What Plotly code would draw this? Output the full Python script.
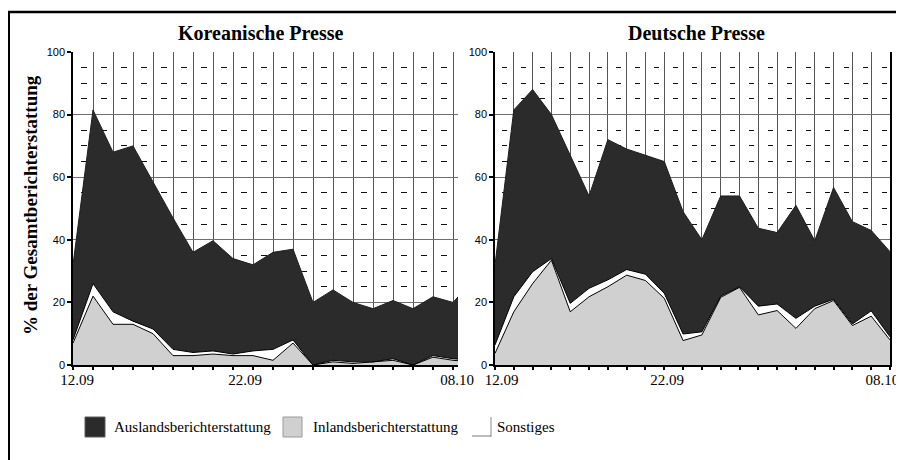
import plotly.graph_objects as go

# ---------------- data ----------------
dates = ["12.09", "13.09", "14.09", "15.09", "17.09", "18.09", "19.09", "20.09",
         "21.09", "22.09", "24.09", "25.09", "26.09", "27.09", "28.09", "29.09",
         "01.10", "02.10", "04.10", "05.10", "06.10", "08.10"]

series_names = ["Auslandsberichterstattung", "Inlandsberichterstattung", "Sonstiges"]

# Koreanische Presse (% der Gesamtberichterstattung)
kr_inland = [7, 22, 13, 13, 10, 3, 3, 3.5, 3, 3, 1.5, 7, 0, 1, 0.5, 1, 1.5, 0, 2.5, 1.5, 1, 1]
kr_sonst = [1, 4, 4, 1, 1.5, 2, 1, 1, 0.5, 1.5, 3.5, 1, 0, 0.5, 0.5, 0, 0.5, 0, 0.5, 0.5, 0.5, 0.5]
kr_ausland = [24, 55.5, 51, 56, 47, 42, 32, 35.2, 30.5, 27.5, 31, 29, 20, 22.5, 19, 17, 18.6,
              18, 18.8, 18, 25.5, 23.5]

# Deutsche Presse (% der Gesamtberichterstattung)
de_inland = [3.7, 17, 26, 33.5, 17, 21.8, 25, 28.7, 27, 21.3, 7.8, 9.6, 21.6, 24.8, 16, 17.4,
             11.7, 18, 20.6, 12.6, 15.6, 8]
de_sonst = [2.7, 4.8, 3.8, 0.5, 2.7, 2.7, 2.2, 1.8, 2, 1.6, 2.1, 1, 0.4, 0.2, 2.8, 2.1, 3.2,
            0.8, 0.4, 0.5, 1.7, 1]
de_ausland = [25.6, 59.7, 58.2, 46, 47.3, 29.5, 44.8, 38.5, 38, 42.1, 39.1, 29.4, 32, 29, 24.9,
              22.8, 36.1, 20.9, 35.7, 32.7, 25.7, 27.2]

panel_titles = ["Koreanische Presse", "Deutsche Presse"]
y_title = "% der Gesamtberichterstattung"

# ---------------- styling ----------------
# page body has an 8px margin: the figure fills the rest of the 904x460 window
OFF = 8
W, H = 904 - OFF, 460 - OFF
DARK = "#2b2b2b"
LIGHT = "#d0d0d0"
SERIF = "Liberation Serif, Times New Roman, serif"
SANS = "Liberation Sans, Arial, sans-serif"


def px(x):
    return (x - OFF) / W


def py(y):
    return 1 - (y - OFF) / H


x_idx = list(range(len(dates)))

fig = go.Figure()


def add_panel(inland, sonst, ausland, xa, ya, grp):
    fig.add_trace(go.Scatter(x=x_idx, y=inland, name=series_names[1], stackgroup=grp,
                             mode="lines", line=dict(color="black", width=1),
                             fillcolor=LIGHT, xaxis=xa, yaxis=ya, hoverinfo="skip"))
    fig.add_trace(go.Scatter(x=x_idx, y=sonst, name=series_names[2], stackgroup=grp,
                             mode="lines", line=dict(color="black", width=1),
                             fillcolor="white", xaxis=xa, yaxis=ya, hoverinfo="skip"))
    fig.add_trace(go.Scatter(x=x_idx, y=ausland, name=series_names[0], stackgroup=grp,
                             mode="lines", line=dict(color="#1e1e1e", width=1),
                             fillcolor=DARK, xaxis=xa, yaxis=ya, hoverinfo="skip"))


add_panel(kr_inland, kr_sonst, kr_ausland, "x", "y", "kr")
add_panel(de_inland, de_sonst, de_ausland, "x2", "y2", "de")

label_idx = [0, 9, len(dates) - 1]
label_text = [dates[i] for i in label_idx]


def xaxis_cfg(domain, rng, label_pos):
    return dict(
        domain=domain, range=rng, showgrid=False, zeroline=False,
        showline=True, linecolor="black", linewidth=1.5, automargin=False,
        tickmode="array", tickvals=label_pos, ticktext=label_text, ticks="",
        tickfont=dict(family=SERIF, size=15, color="black"),
        minor=dict(tickmode="linear", tick0=0, dtick=1, ticks="outside", ticklen=3,
                   tickwidth=2, tickcolor="black", showgrid=True,
                   gridcolor="#555555", gridwidth=1),
        fixedrange=True,
    )


def yaxis_cfg(anchor, mirror, dash):
    return dict(
        domain=[py(365), py(52)], range=[0, 100], anchor=anchor, automargin=False,
        tickmode="linear", tick0=0, dtick=20, ticks="outside", ticklen=4,
        tickwidth=2, tickcolor="black", showline=True, linecolor="black",
        linewidth=1.5, mirror=mirror, zeroline=False,
        showgrid=True, gridcolor="#6e6e6e", gridwidth=1,
        tickfont=dict(family=SANS, size=11, color="black"),
        minor=dict(tickmode="linear", tick0=0, dtick=5, showgrid=True,
                   gridcolor="#111111", gridwidth=1, griddash=dash, ticks=""),
        fixedrange=True,
    )


fig.update_layout(
    width=W, height=H, autosize=False,
    margin=dict(l=0, r=0, t=0, b=0, pad=0, autoexpand=False),
    paper_bgcolor="white", plot_bgcolor="white",
    showlegend=False,
    xaxis=dict(anchor="y", **xaxis_cfg([px(73), px(458)], [0, 19.25], [0.2, 8.6, 19.2])),
    yaxis=yaxis_cfg("x", False, "0px,8px,6px,6px"),
    xaxis2=dict(anchor="y2", **xaxis_cfg([px(495), px(890)], [0, 21], [0.35, 9.15, 20.6])),
    yaxis2=yaxis_cfg("x2", True, "0px,7px,5px,7px"),
)

annotations = [
    dict(text=f"<b>{panel_titles[0]}</b>", x=px(260), y=py(33), xref="paper", yref="paper",
         xanchor="center", yanchor="middle", showarrow=False,
         font=dict(family=SERIF, size=20, color="black")),
    dict(text=f"<b>{panel_titles[1]}</b>", x=px(696), y=py(33), xref="paper", yref="paper",
         xanchor="center", yanchor="middle", showarrow=False,
         font=dict(family=SERIF, size=20, color="black")),
    dict(text=f"<b>{y_title}</b>", x=px(30), y=py(205), xref="paper", yref="paper",
         xanchor="center", yanchor="middle", showarrow=False, textangle=-90,
         font=dict(family=SERIF, size=19, color="black")),
]

shapes = [
    # outer frame (left and top)
    dict(type="line", xref="paper", yref="paper", x0=0, x1=0, y0=py(11), y1=0,
         line=dict(color="black", width=4)),
    dict(type="line", xref="paper", yref="paper", x0=0, x1=1, y0=py(12), y1=py(12),
         line=dict(color="black", width=2.5)),
]

# legend boxes
box_top, box_bot = 417, 437
shapes += [
    dict(type="rect", xref="paper", yref="paper", x0=px(85), x1=px(105), y0=py(box_bot),
         y1=py(box_top), fillcolor=DARK, line=dict(color="#5a5a5a", width=1)),
    dict(type="rect", xref="paper", yref="paper", x0=px(283), x1=px(302), y0=py(box_bot),
         y1=py(box_top), fillcolor=LIGHT, line=dict(color="#9a9a9a", width=1)),
    dict(type="line", xref="paper", yref="paper", x0=px(472), x1=px(491), y0=py(436),
         y1=py(436), line=dict(color="#bdbdbd", width=2)),
    dict(type="line", xref="paper", yref="paper", x0=px(491), x1=px(491), y0=py(437),
         y1=py(417), line=dict(color="#8a8a8a", width=1)),
]

text_left = [112, 311, 495]
for name, tx in zip(series_names, text_left):
    annotations.append(dict(text=name, x=px(tx), y=py(427), xref="paper", yref="paper",
                            xanchor="left", yanchor="middle", showarrow=False,
                            font=dict(family=SERIF, size=15, color="black")))

fig.update_layout(annotations=annotations, shapes=shapes)

fig.write_html("out.html")
